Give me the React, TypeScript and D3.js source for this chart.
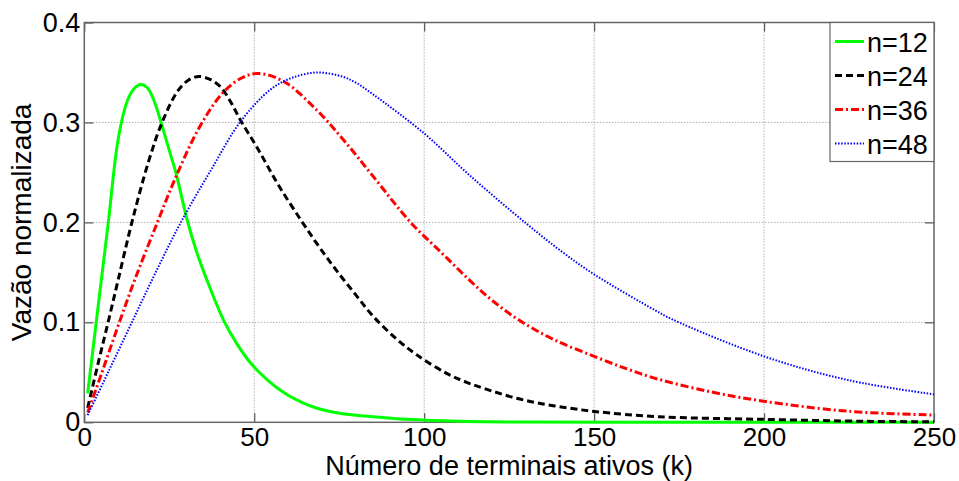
import React, { useEffect, useRef } from 'react';
import * as d3 from 'd3';

const WIDTH = 959;
const HEIGHT = 481;
const MARGIN = { top: 22.5, right: 25, bottom: 58.7, left: 84.3 };
const FONT = '"Liberation Sans", Arial, sans-serif';

const X_TICKS = [0, 50, 100, 150, 200, 250];
const Y_TICKS = [0, 0.1, 0.2, 0.3, 0.4];
const Y_TICK_LABELS = ['0', '0.1', '0.2', '0.3', '0.4'];

const X_LABEL = 'Número de terminais ativos (k)';
const Y_LABEL = 'Vazão normalizada';

// n=12
const K_N12 = [1, 4, 7, 10, 12.7, 14.7, 16.6, 18.5, 20.5, 22.5, 25, 27, 30.3, 33, 36, 41, 45, 49, 54, 59, 64, 68.5, 76, 85, 95, 110, 130, 160, 200, 250];
const V_N12 = [0.029, 0.114, 0.198, 0.284, 0.322, 0.334, 0.338, 0.335, 0.322, 0.301, 0.272, 0.249, 0.202, 0.171, 0.143, 0.102, 0.078, 0.059, 0.042, 0.029, 0.02, 0.014, 0.0085, 0.0056, 0.003, 0.001, 0.0003, 0, 0, 0];

// n=24
const K_N24 = [1, 4, 7, 10, 14, 19, 23, 27.4, 30.5, 33.7, 37, 40, 43, 46, 51, 57, 63.6, 69, 74.4, 80, 85, 92, 98, 106.6, 112.5, 119.3, 127.2, 135, 143, 150.7, 169, 199, 230, 250];
const V_N24 = [0.0145, 0.058, 0.1, 0.143, 0.2, 0.262, 0.301, 0.331, 0.342, 0.346, 0.343, 0.336, 0.321, 0.302, 0.274, 0.238, 0.203, 0.176, 0.151, 0.127, 0.106, 0.083, 0.067, 0.049, 0.04, 0.032, 0.024, 0.0183, 0.014, 0.0106, 0.0056, 0.003, 0.001, 0.0005];

// n=36
const K_N36 = [1, 5, 10, 15, 21.5, 27, 34, 40.6, 46, 51, 58.7, 68.5, 76.4, 85, 96, 105, 113.4, 120, 128, 138, 150, 160, 169, 185, 200, 225, 250];
const V_N36 = [0.0097, 0.048, 0.097, 0.144, 0.2, 0.246, 0.296, 0.329, 0.344, 0.349, 0.341, 0.312, 0.282, 0.246, 0.2, 0.17, 0.142, 0.122, 0.102, 0.083, 0.066, 0.053, 0.043, 0.03, 0.021, 0.011, 0.0073];

// n=48
const K_N48 = [1, 7, 14, 21, 28.4, 37.2, 46, 54.8, 61, 68.5, 76, 80, 85, 100, 113.4, 130, 140, 150, 168, 173, 200, 225, 250];
const V_N48 = [0.0072, 0.05, 0.1, 0.15, 0.2, 0.252, 0.301, 0.333, 0.3445, 0.35, 0.3458, 0.3396, 0.328, 0.289, 0.247, 0.199, 0.172, 0.148, 0.112, 0.103, 0.066, 0.042, 0.028];

const SERIES_NAMES = ['n=12', 'n=24', 'n=36', 'n=48'];
const SERIES_K = [K_N12, K_N24, K_N36, K_N48];
const SERIES_V = [V_N12, V_N24, V_N36, V_N48];
const SERIES_COLORS = ['#00ff00', '#000000', '#ff0000', '#0000ff'];
const SERIES_DASHES = [null, '7,4', '8,3,2,3', '1.5,1.6'];
const SERIES_WIDTHS = [3, 3, 3, 2];

function setupSVG(svgRef)
{
    const svg = d3.select(svgRef.current);
    svg.selectAll('*').remove();
    svg.attr('width', WIDTH).attr('height', HEIGHT);
    svg.append('rect').attr('width', WIDTH).attr('height', HEIGHT).attr('fill', '#ffffff');
    return svg.append('g').attr('transform', `translate(${ MARGIN.left },${ MARGIN.top })`);
}

function drawGrid(g, x, y, w, h)
{
    const grid = g.append('g')
        .attr('stroke', '#8a8a8a')
        .attr('stroke-width', 1)
        .attr('stroke-dasharray', '1,2');

    grid.selectAll('line.vx')
        .data(X_TICKS.slice(1, -1))
        .join('line')
        .attr('class', 'vx')
        .attr('x1', (d) => x(d)).attr('x2', (d) => x(d))
        .attr('y1', 0).attr('y2', h);

    grid.selectAll('line.hy')
        .data(Y_TICKS.slice(1, -1))
        .join('line')
        .attr('class', 'hy')
        .attr('x1', 0).attr('x2', w)
        .attr('y1', (d) => y(d)).attr('y2', (d) => y(d));
}

function styleAxis(sel, size = 27)
{
    sel.select('.domain').remove();
    sel.selectAll('.tick line').attr('stroke', '#555555').attr('stroke-width', 1.2);
    sel.selectAll('.tick text')
        .attr('fill', '#000000')
        .style('font-family', FONT)
        .style('font-size', `${ size }px`);
}

function drawAxes(g, x, y, w, h)
{
    g.append('g')
        .attr('transform', `translate(0,${ h })`)
        .call(d3.axisBottom(x).tickValues(X_TICKS).tickSizeInner(-9).tickSizeOuter(0).tickPadding(5).tickFormat(d3.format('d')))
        .call(styleAxis, 26);

    g.append('g')
        .call(d3.axisTop(x).tickValues(X_TICKS).tickSizeInner(-9).tickSizeOuter(0).tickFormat(() => ''))
        .call(styleAxis);

    g.append('g')
        .call(d3.axisLeft(y).tickValues(Y_TICKS).tickSizeInner(-9).tickSizeOuter(0).tickPadding(4)
            .tickFormat((d, i) => Y_TICK_LABELS[i]))
        .call(styleAxis);

    g.append('g')
        .attr('transform', `translate(${ w },0)`)
        .call(d3.axisRight(y).tickValues(Y_TICKS).tickSizeInner(-9).tickSizeOuter(0).tickFormat(() => ''))
        .call(styleAxis);

    g.append('rect')
        .attr('width', w)
        .attr('height', h)
        .attr('fill', 'none')
        .attr('stroke', '#666666')
        .attr('stroke-width', 1.5);

    g.append('text')
        .attr('x', w / 2)
        .attr('y', h + 52.5)
        .attr('text-anchor', 'middle')
        .style('font-family', FONT)
        .style('font-size', '27px')
        .text(X_LABEL);

    g.append('text')
        .attr('transform', `translate(${ 31 - MARGIN.left },${ h / 2 }) rotate(-90)`)
        .attr('text-anchor', 'middle')
        .style('font-family', FONT)
        .style('font-size', '28px')
        .text(Y_LABEL);
}

function drawSeries(g, x, y)
{
    const line = d3.line()
        .x((d) => x(d[0]))
        .y((d) => y(Math.max(0, d[1])))
        .curve(d3.curveCatmullRom.alpha(0.5));

    SERIES_K.forEach((ks, i) =>
    {
        const points = ks.map((k, j) => [k, SERIES_V[i][j]]);
        g.append('path')
            .datum(points)
            .attr('fill', 'none')
            .attr('stroke', SERIES_COLORS[i])
            .attr('stroke-width', SERIES_WIDTHS[i])
            .attr('stroke-dasharray', SERIES_DASHES[i])
            .attr('d', line);
    });
}

function drawLegend(g, w)
{
    const boxW = 104;
    const boxH = 139;
    const legend = g.append('g').attr('transform', `translate(${ w - boxW },0)`);

    legend.append('rect')
        .attr('width', boxW)
        .attr('height', boxH)
        .attr('fill', '#ffffff')
        .attr('stroke', '#666666')
        .attr('stroke-width', 1.2);

    SERIES_NAMES.forEach((name, i) =>
    {
        const rowY = 19 + i * 34;
        legend.append('line')
            .attr('x1', 5).attr('x2', 34)
            .attr('y1', rowY).attr('y2', rowY)
            .attr('stroke', SERIES_COLORS[i])
            .attr('stroke-width', SERIES_WIDTHS[i])
            .attr('stroke-dasharray', SERIES_DASHES[i]);
        legend.append('text')
            .attr('x', 37)
            .attr('y', rowY + 10.5)
            .style('font-family', FONT)
            .style('font-size', '27px')
            .text(name);
    });
}

export default function App()
{
    const svgRef = useRef(null);

    useEffect(() =>
    {
        const innerWidth = WIDTH - MARGIN.left - MARGIN.right;
        const innerHeight = HEIGHT - MARGIN.top - MARGIN.bottom;

        const g = setupSVG(svgRef);
        const x = d3.scaleLinear().domain([0, 250]).range([0, innerWidth]);
        const y = d3.scaleLinear().domain([0, 0.4]).range([innerHeight, 0]);

        drawGrid(g, x, y, innerWidth, innerHeight);
        drawAxes(g, x, y, innerWidth, innerHeight);
        drawSeries(g, x, y);
        drawLegend(g, innerWidth);
    }, []);

    return (
        <svg ref={ svgRef } style={ { position: 'absolute', left: 0, top: 0 } } />
    );
}
